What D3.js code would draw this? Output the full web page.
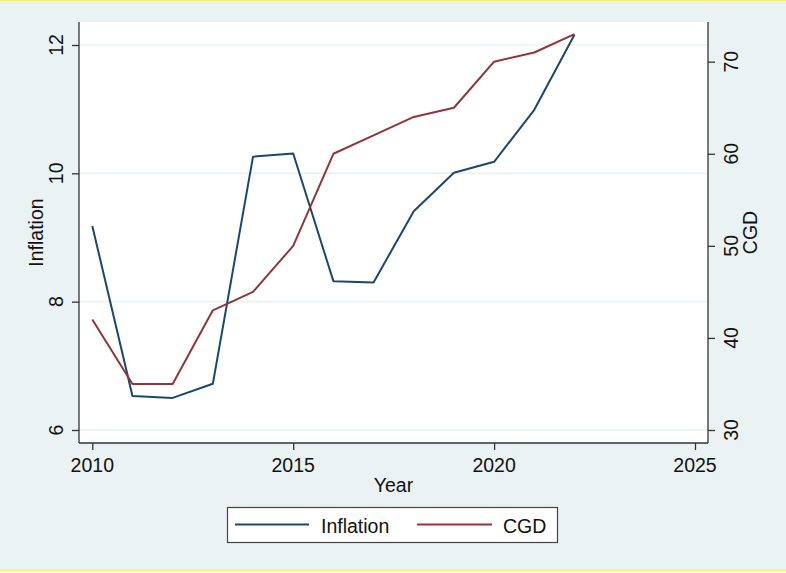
<!DOCTYPE html>
<html>
<head>
<meta charset="utf-8">
<script src="https://cdn.jsdelivr.net/npm/d3@7"></script>
<style>
  html, body { margin: 0; padding: 0; background: #ffffff; }
  svg { display: block; }
  text { font-family: "Liberation Sans", Arial, sans-serif; fill: #111; }
</style>
</head>
<body>
<svg id="chart" width="786" height="573"></svg>
<script>
// ---- data ----
const years = [2010, 2011, 2012, 2013, 2014, 2015, 2016, 2017, 2018, 2019, 2020, 2021, 2022];
const inflation = [9.18, 6.53, 6.50, 6.72, 10.26, 10.31, 8.32, 8.30, 9.41, 10.01, 10.18, 10.99, 12.16];
const cgd = [42, 35, 35, 43, 45, 50, 60, 62, 64, 65, 70, 71, 73];
const xTicks = [2010, 2015, 2020, 2025];
const inflTicks = [6, 8, 10, 12];
const cgdTicks = [30, 40, 50, 60, 70];
const seriesNames = ["Inflation", "CGD"];

// ---- layout ----
const W = 786, H = 573;
const plot = { left: 79, right: 708, top: 22, bottom: 443 };
const colors = { Inflation: "#1a476f", CGD: "#90353b" };
const bg = "#eaf2f3";
const axisColor = "#333333";
const fontSize = 19.5;

const svg = d3.select("#chart");

// background
svg.append("rect").attr("x", 0).attr("y", 0).attr("width", W).attr("height", 571).attr("fill", bg);
svg.append("line").attr("x1", 0).attr("x2", W).attr("y1", 0.5).attr("y2", 0.5)
  .attr("stroke", "#f3f37a").attr("stroke-width", 1.5);
svg.append("line").attr("x1", 0).attr("x2", W).attr("y1", 570.5).attr("y2", 570.5)
  .attr("stroke", "#f3f37a").attr("stroke-width", 1.5);

// plot region
svg.append("rect")
  .attr("x", plot.left).attr("y", plot.top)
  .attr("width", plot.right - plot.left).attr("height", plot.bottom - plot.top)
  .attr("fill", "#ffffff");

// scales
const x = d3.scaleLinear().domain([2010, 2025]).range([92.3, 695]);
const yL = d3.scaleLinear().domain([6, 12]).range([430, 45]);
const yR = d3.scaleLinear().domain([30, 70]).range([430, 61.7]);

// grid lines
svg.append("g").selectAll("line").data(inflTicks).join("line")
  .attr("x1", plot.left).attr("x2", plot.right)
  .attr("y1", d => yL(d)).attr("y2", d => yL(d))
  .attr("stroke", bg).attr("stroke-width", 1.6);

// left axis
const gL = svg.append("g").attr("transform", `translate(${plot.left},0)`)
  .call(d3.axisLeft(yL).tickValues(inflTicks).tickSize(7).tickFormat(d3.format("d")));
gL.select(".domain").remove();
gL.selectAll(".tick line").attr("stroke", axisColor).attr("stroke-width", 1.3);
gL.selectAll(".tick text").remove();
svg.append("line").attr("x1", plot.left).attr("x2", plot.left)
  .attr("y1", plot.top).attr("y2", plot.bottom)
  .attr("stroke", axisColor).attr("stroke-width", 1.3);
svg.append("g").selectAll("text").data(inflTicks).join("text")
  .attr("transform", d => `translate(63,${yL(d)}) rotate(-90)`)
  .attr("text-anchor", "middle").attr("font-size", fontSize)
  .text(d => d);

// right axis
const gR = svg.append("g").attr("transform", `translate(${plot.right},0)`)
  .call(d3.axisRight(yR).tickValues(cgdTicks).tickSize(7).tickFormat(d3.format("d")));
gR.select(".domain").remove();
gR.selectAll(".tick line").attr("stroke", axisColor).attr("stroke-width", 1.3);
gR.selectAll(".tick text").remove();
svg.append("line").attr("x1", plot.right).attr("x2", plot.right)
  .attr("y1", plot.top).attr("y2", plot.bottom)
  .attr("stroke", axisColor).attr("stroke-width", 1.3);
svg.append("g").selectAll("text").data(cgdTicks).join("text")
  .attr("transform", d => `translate(738,${yR(d)}) rotate(-90)`)
  .attr("text-anchor", "middle").attr("font-size", fontSize)
  .text(d => d);

// bottom axis
const gB = svg.append("g").attr("transform", `translate(0,${plot.bottom})`)
  .call(d3.axisBottom(x).tickValues(xTicks).tickSize(7).tickFormat(d3.format("d")));
gB.select(".domain").remove();
gB.selectAll(".tick line").attr("stroke", axisColor).attr("stroke-width", 1.3);
gB.selectAll(".tick text").remove();
svg.append("line").attr("x1", plot.left).attr("x2", plot.right)
  .attr("y1", plot.bottom).attr("y2", plot.bottom)
  .attr("stroke", axisColor).attr("stroke-width", 1.3);
svg.append("g").selectAll("text").data(xTicks).join("text")
  .attr("x", d => x(d)).attr("y", 472)
  .attr("text-anchor", "middle").attr("font-size", fontSize)
  .text(d => d);

// axis titles
svg.append("text").attr("x", (plot.left + plot.right) / 2).attr("y", 492)
  .attr("text-anchor", "middle").attr("font-size", fontSize).text("Year");
svg.append("text").attr("transform", `translate(43,${(plot.top + plot.bottom) / 2}) rotate(-90)`)
  .attr("text-anchor", "middle").attr("font-size", fontSize).text("Inflation");
svg.append("text").attr("transform", `translate(757,${(plot.top + plot.bottom) / 2}) rotate(-90)`)
  .attr("text-anchor", "middle").attr("font-size", fontSize).text("CGD");

// lines
const lineL = d3.line().x((d, i) => x(years[i])).y(d => yL(d));
const lineR = d3.line().x((d, i) => x(years[i])).y(d => yR(d));
const gPlot = svg.append("g");
gPlot.append("path").datum(inflation).attr("d", lineL)
  .attr("fill", "none").attr("stroke", colors.Inflation).attr("stroke-width", 2)
  .attr("stroke-linejoin", "round");
gPlot.append("path").datum(cgd).attr("d", lineR)
  .attr("fill", "none").attr("stroke", colors.CGD).attr("stroke-width", 2)
  .attr("stroke-linejoin", "round");

// legend
const leg = svg.append("g");
leg.append("rect").attr("x", 227.5).attr("y", 507.5).attr("width", 330).attr("height", 35)
  .attr("fill", "#ffffff").attr("stroke", "#444").attr("stroke-width", 1.2);
const legItems = [
  { name: seriesNames[0], x0: 235, x1: 309, tx: 321 },
  { name: seriesNames[1], x0: 417, x1: 492, tx: 503 }
];
legItems.forEach(it => {
  leg.append("line").attr("x1", it.x0).attr("x2", it.x1).attr("y1", 524.5).attr("y2", 524.5)
    .attr("stroke", colors[it.name]).attr("stroke-width", 2);
  leg.append("text").attr("x", it.tx).attr("y", 533).attr("font-size", fontSize).text(it.name);
});
</script>
</body>
</html>
